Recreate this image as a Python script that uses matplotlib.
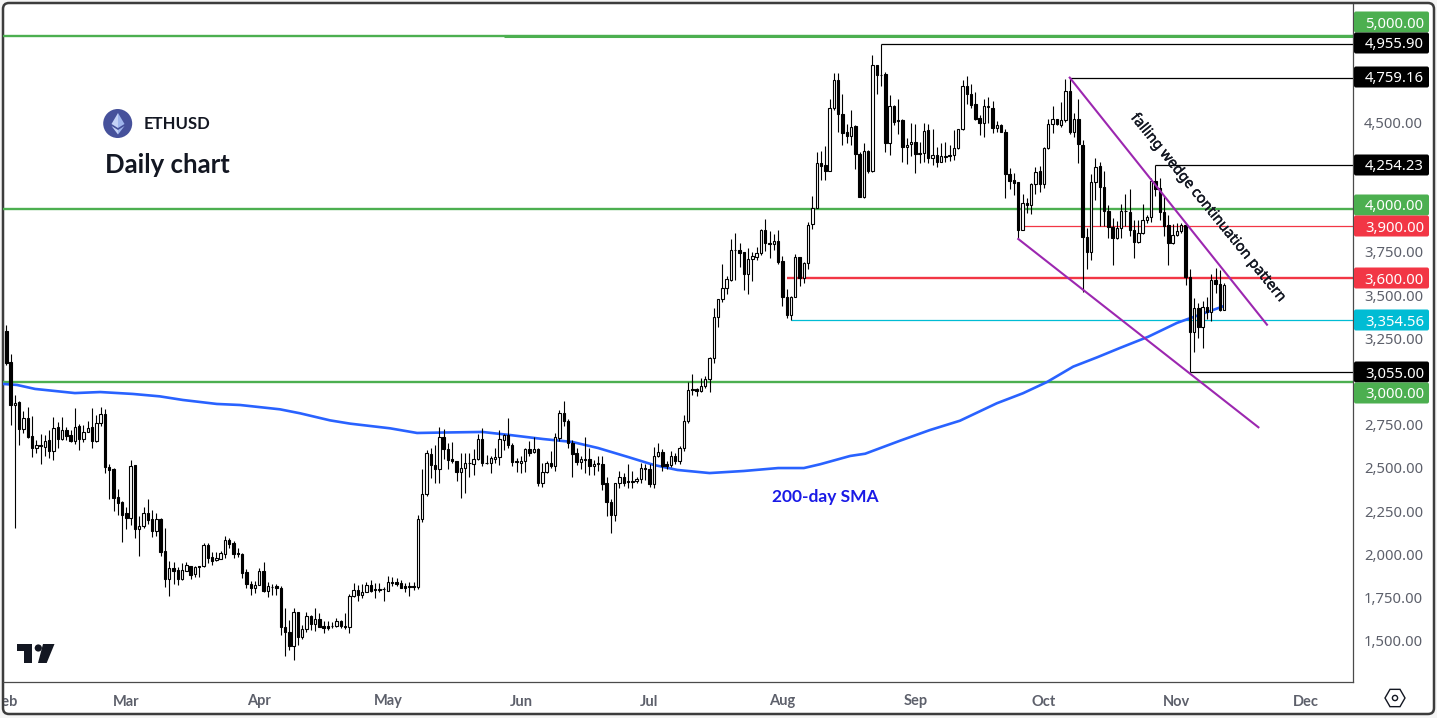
import matplotlib
matplotlib.use("Agg")
import matplotlib.pyplot as plt
import matplotlib.patheffects as pe
from matplotlib.patches import Circle, FancyBboxPatch, Polygon, RegularPolygon
from matplotlib.transforms import Bbox

plt.rcParams['font.family'] = ['Noto Sans', 'DejaVu Sans']

# daily ETHUSD candles, first one is 1 Feb
opens = [
    3294, 3113, 2863, 2879, 2725, 2786, 2682, 2615, 2630, 2621,
    2659, 2598, 2734, 2665, 2721, 2688, 2654, 2740, 2667, 2707,
    2734, 2654, 2759, 2813, 2507, 2492, 2329, 2300, 2236, 2211,
    2515, 2144, 2165, 2236, 2204, 2136, 2204, 2019, 1859, 1919,
    1909, 1859, 1905, 1934, 1884, 1931, 1931, 2054, 1984, 1965,
    1975, 2004, 2081, 2063, 2005, 1999, 1896, 1829, 1802, 1821,
    1902, 1790, 1813, 1817, 1804, 1579, 1552, 1467, 1665, 1521,
    1567, 1642, 1594, 1627, 1584, 1584, 1584, 1583, 1613, 1584,
    1577, 1756, 1792, 1767, 1784, 1821, 1800, 1798, 1798, 1790,
    1840, 1838, 1832, 1817, 1817, 1817, 1809, 2204, 2348, 2583,
    2517, 2494, 2681, 2612, 2554, 2540, 2477, 2502, 2527, 2521,
    2550, 2669, 2531, 2527, 2550, 2565, 2662, 2688, 2635, 2538,
    2527, 2538, 2612, 2592, 2612, 2413, 2477, 2531, 2512, 2673,
    2819, 2771, 2646, 2585, 2535, 2548, 2550, 2512, 2523, 2525,
    2412, 2300, 2229, 2415, 2450, 2423, 2425, 2423, 2438, 2502,
    2492, 2406, 2567, 2594, 2521, 2517, 2571, 2540, 2617, 2771,
    2954, 2956, 2944, 2973, 3012, 3137, 3373, 3477, 3544, 3588,
    3762, 3762, 3748, 3623, 3708, 3723, 3742, 3877, 3800, 3794,
    3813, 3698, 3488, 3387, 3492, 3719, 3602, 3685, 3911, 4007,
    4263, 4253, 4220, 4586, 4747, 4551, 4442, 4422, 4478, 4315,
    4070, 4334, 4219, 4830, 4776, 4778, 4378, 4597, 4511, 4513,
    4359, 4372, 4388, 4315, 4324, 4455, 4295, 4309, 4272, 4301,
    4309, 4309, 4349, 4459, 4713, 4667, 4605, 4524, 4497, 4590,
    4586, 4469, 4482, 4447, 4199, 4165, 4153, 3878, 4032, 4021,
    4142, 4219, 4145, 4349, 4488, 4517, 4484, 4511, 4684, 4445,
    4522, 4367, 3837, 3750, 4154, 4246, 4125, 3987, 3894, 3829,
    3889, 3985, 3981, 3879, 3806, 3858, 3935, 3952, 4162, 4119,
    3981, 3908, 3800, 3846, 3869, 3908, 3606, 3287, 3427, 3317,
    3433, 3402, 3585, 3565, 3414,
]
closes = [
    3109, 2863, 2877, 2725, 2786, 2679, 2613, 2630, 2627, 2657,
    2598, 2732, 2667, 2721, 2682, 2654, 2738, 2667, 2709, 2732,
    2655, 2761, 2813, 2505, 2486, 2327, 2298, 2229, 2211, 2513,
    2144, 2165, 2236, 2200, 2136, 2204, 2015, 1859, 1919, 1905,
    1859, 1909, 1938, 1882, 1927, 1929, 2052, 1981, 1961, 1979,
    2005, 2081, 2059, 2004, 1999, 1894, 1825, 1802, 1821, 1902,
    1790, 1815, 1811, 1802, 1577, 1548, 1467, 1665, 1521, 1567,
    1642, 1594, 1627, 1581, 1571, 1573, 1583, 1613, 1583, 1577,
    1757, 1792, 1767, 1784, 1823, 1788, 1792, 1794, 1796, 1838,
    1836, 1829, 1807, 1806, 1813, 1813, 2202, 2348, 2588, 2517,
    2494, 2681, 2608, 2546, 2538, 2477, 2502, 2531, 2531, 2554,
    2669, 2531, 2527, 2556, 2565, 2665, 2688, 2631, 2535, 2533,
    2542, 2612, 2588, 2612, 2413, 2479, 2531, 2512, 2681, 2819,
    2771, 2646, 2581, 2535, 2550, 2550, 2512, 2525, 2527, 2406,
    2300, 2229, 2415, 2450, 2415, 2421, 2419, 2438, 2502, 2492,
    2406, 2571, 2594, 2508, 2512, 2571, 2537, 2617, 2771, 2950,
    2952, 2944, 2973, 3015, 3138, 3373, 3477, 3544, 3592, 3762,
    3760, 3746, 3623, 3708, 3727, 3742, 3877, 3800, 3794, 3812,
    3690, 3487, 3387, 3492, 3719, 3602, 3685, 3908, 4007, 4263,
    4249, 4220, 4586, 4747, 4551, 4440, 4422, 4474, 4315, 4070,
    4334, 4219, 4830, 4776, 4774, 4378, 4597, 4503, 4509, 4359,
    4371, 4388, 4315, 4324, 4451, 4295, 4309, 4272, 4305, 4305,
    4307, 4349, 4459, 4713, 4667, 4599, 4520, 4497, 4592, 4592,
    4469, 4482, 4447, 4199, 4163, 4151, 3878, 4032, 4019, 4144,
    4215, 4145, 4351, 4488, 4517, 4488, 4511, 4684, 4445, 4522,
    4374, 3835, 3750, 4154, 4244, 4125, 3987, 3892, 3829, 3889,
    3987, 3987, 3875, 3806, 3860, 3935, 3952, 4162, 4117, 3981,
    3898, 3800, 3848, 3873, 3908, 3604, 3287, 3427, 3315, 3433,
    3402, 3585, 3565, 3412, 3556,
]
highs = [
    3329, 3159, 2919, 2890, 2827, 2855, 2798, 2659, 2694, 2692,
    2721, 2792, 2765, 2792, 2734, 2721, 2844, 2752, 2748, 2769,
    2846, 2804, 2850, 2838, 2525, 2500, 2379, 2311, 2271, 2548,
    2519, 2221, 2271, 2317, 2254, 2236, 2207, 2150, 1959, 1954,
    1929, 1948, 1955, 1934, 1934, 1932, 2067, 2063, 2015, 2011,
    2017, 2105, 2096, 2077, 2034, 2005, 1913, 1846, 1846, 1923,
    1955, 1842, 1829, 1827, 1817, 1688, 1621, 1688, 1665, 1592,
    1663, 1650, 1688, 1659, 1611, 1611, 1607, 1631, 1621, 1659,
    1771, 1832, 1823, 1827, 1842, 1852, 1832, 1836, 1813, 1875,
    1871, 1865, 1852, 1832, 1842, 1842, 2227, 2492, 2604, 2617,
    2631, 2738, 2727, 2646, 2652, 2540, 2588, 2588, 2588, 2608,
    2694, 2733, 2575, 2569, 2617, 2719, 2698, 2790, 2646, 2560,
    2569, 2617, 2656, 2681, 2617, 2531, 2540, 2598, 2704, 2833,
    2885, 2785, 2662, 2617, 2569, 2681, 2617, 2546, 2569, 2569,
    2448, 2319, 2415, 2483, 2473, 2525, 2483, 2450, 2531, 2521,
    2521, 2623, 2646, 2608, 2540, 2598, 2588, 2627, 2804, 3000,
    3046, 2963, 3021, 3031, 3142, 3425, 3479, 3681, 3612, 3823,
    3862, 3800, 3752, 3771, 3752, 3781, 3881, 3940, 3873, 3852,
    3877, 3727, 3535, 3496, 3737, 3719, 3694, 3925, 4074, 4330,
    4336, 4363, 4638, 4786, 4788, 4667, 4490, 4574, 4482, 4330,
    4378, 4340, 4888, 4830, 4955, 4792, 4661, 4599, 4634, 4517,
    4407, 4499, 4490, 4388, 4494, 4488, 4459, 4355, 4378, 4384,
    4369, 4455, 4463, 4743, 4767, 4720, 4676, 4545, 4638, 4647,
    4624, 4509, 4488, 4459, 4234, 4205, 4157, 4086, 4065, 4147,
    4244, 4247, 4355, 4519, 4594, 4522, 4619, 4753, 4759, 4555,
    4634, 4398, 3889, 4202, 4292, 4273, 4219, 4023, 3946, 3927,
    4029, 4087, 4114, 3937, 3937, 4027, 3965, 4177, 4254, 4177,
    4075, 3962, 3912, 3917, 3917, 3912, 3652, 3485, 3456, 3465,
    3490, 3625, 3658, 3648, 3571,
]
lows = [
    3098, 2746, 2154, 2630, 2702, 2675, 2563, 2586, 2523, 2567,
    2559, 2544, 2613, 2659, 2659, 2648, 2640, 2602, 2648, 2707,
    2613, 2648, 2740, 2471, 2321, 2250, 2229, 2073, 2144, 2169,
    2096, 1992, 2154, 2173, 2102, 2107, 1992, 1813, 1756, 1830,
    1823, 1852, 1904, 1859, 1871, 1871, 1929, 1948, 1938, 1961,
    1975, 1981, 2034, 1981, 1982, 1865, 1802, 1767, 1775, 1821,
    1784, 1750, 1763, 1763, 1534, 1413, 1448, 1386, 1473, 1509,
    1548, 1563, 1554, 1581, 1542, 1563, 1573, 1579, 1573, 1569,
    1542, 1750, 1727, 1746, 1784, 1781, 1744, 1784, 1730, 1790,
    1817, 1817, 1804, 1783, 1756, 1794, 1798, 2188, 2339, 2440,
    2412, 2415, 2550, 2492, 2531, 2425, 2325, 2354, 2448, 2458,
    2546, 2512, 2521, 2469, 2531, 2517, 2604, 2617, 2512, 2477,
    2469, 2477, 2569, 2588, 2396, 2390, 2473, 2502, 2483, 2656,
    2742, 2617, 2448, 2515, 2492, 2469, 2460, 2458, 2483, 2373,
    2223, 2121, 2194, 2381, 2396, 2381, 2385, 2412, 2415, 2431,
    2392, 2381, 2565, 2483, 2496, 2506, 2521, 2521, 2598, 2762,
    2921, 2915, 2938, 2963, 2938, 3108, 3313, 3463, 3508, 3583,
    3588, 3665, 3531, 3508, 3579, 3704, 3733, 3756, 3717, 3762,
    3681, 3435, 3367, 3358, 3492, 3550, 3569, 3650, 3884, 4005,
    4167, 4167, 4219, 4570, 4445, 4369, 4378, 4369, 4230, 4070,
    4065, 4209, 4211, 4663, 4709, 4330, 4311, 4484, 4432, 4272,
    4259, 4305, 4209, 4263, 4272, 4267, 4253, 4240, 4272, 4272,
    4278, 4282, 4344, 4455, 4605, 4584, 4513, 4426, 4417, 4499,
    4436, 4445, 4445, 4065, 4115, 4080, 3826, 3878, 3974, 3970,
    4086, 4095, 4122, 4344, 4436, 4484, 4474, 4503, 4432, 4413,
    4267, 3519, 3654, 3702, 4048, 3898, 3898, 3831, 3677, 3825,
    3831, 3898, 3840, 3714, 3802, 3854, 3917, 3923, 4075, 3937,
    3840, 3677, 3798, 3840, 3860, 3558, 3055, 3171, 3252, 3196,
    3360, 3350, 3510, 3408, 3414,
]

# 200-day SMA, day number and price
sma_days = [-0.8, 2.5, 6.7, 16, 21.9, 29.5, 35.8, 41.2, 49.1, 54.5, 63.8, 68.5, 75.5, 80.2, 89.5, 95.8, 100.4,
            111, 117.5, 125.2, 132, 138, 145, 151, 156.5, 164, 172, 180, 186, 189.8, 196.8, 200.3, 208.4, 215.4,
            222.4, 231, 237.1, 242.7, 248.8, 254.4, 259.7, 266.3, 273, 284]
sma_values = [2986, 2980, 2957, 2933, 2939, 2928, 2914, 2893, 2870, 2864, 2839, 2816, 2775, 2756, 2729, 2702, 2704,
              2708, 2690, 2667, 2650, 2615, 2563, 2517, 2488, 2470, 2482, 2499, 2499, 2521, 2569, 2582, 2657, 2719,
              2773, 2874, 2932, 2997, 3086, 3140, 3194, 3259, 3339, 3437]

# full width support / resistance levels
green_levels = [5000, 4000, 3000]
# (price, first day) of the lines that start at a candle
black_rays = [(4955.90, 204), (4759.16, 248), (4254.23, 268), (3055.00, 276)]
red_rays = [(3900, 237), (3600, 182)]
cyan_ray = (3354.56, 183)

wedge_upper_days = [248, 294]
wedge_upper_prices = [4759, 3329]
wedge_lower_days = [236, 292]
wedge_lower_prices = [3825, 2735]

month_names = ['Feb', 'Mar', 'Apr', 'May', 'Jun', 'Jul', 'Aug', 'Sep', 'Oct', 'Nov', 'Dec']
month_days = [0, 28, 59, 89, 120, 150, 181, 212, 242, 273, 303]
price_ticks = [4500, 3750, 3500, 3250, 2750, 2500, 2250, 2000, 1750, 1500]

# price tags on the right: text, y pixel, colour
tag_texts = ['5,000.00', '4,955.90', '4,759.16', '4,254.23', '4,000.00', '3,900.00', '3,600.00', '3,354.56', '3,055.00', '3,000.00']
tag_rows = [22, 43, 77, 165, 205, 226, 278, 320, 372, 393]
tag_colors = ['#4caf50', '#000000', '#000000', '#000000', '#4caf50', '#f23645', '#f23645', '#00bcd4', '#000000', '#4caf50']

GREEN = '#4caf50'
RED = '#f23645'
CYAN = '#00bcd4'
BLUE = '#2962ff'
PURPLE = '#9c27b0'
GREY = '#5d606b'

W, H = 1437, 718
fig = plt.figure(figsize=(W / 100, H / 100), dpi=100, facecolor='#f5f5f5')

# background layer for the rounded frame, same pixel coordinates as the picture
bg = fig.add_axes([0, 0, 1, 1], zorder=0)
bg.set_xlim(0, W)
bg.set_ylim(H, 0)
bg.axis('off')
bg.add_patch(FancyBboxPatch((3, 3), 1431, 711, boxstyle='round,pad=0,rounding_size=6',
                            fc='white', ec='#3c3c3c', lw=1.8))

# the chart itself, x = day number, y = price
left, right, top, bottom = 3, 1353, 4, 682
ax = fig.add_axes([left / W, 1 - bottom / H, (right - left) / W, (bottom - top) / H], zorder=1)
ax.patch.set_alpha(0)
x0 = 6.3
day_px = 4.288
price_px = 0.17275
ax.set_xlim((left - x0) / day_px, (right - x0) / day_px)
ax.set_ylim(3000 + (381.5 - bottom) / price_px, 3000 + (381.5 - top) / price_px)
for side in ['top', 'left']:
    ax.spines[side].set_visible(False)
ax.spines['right'].set_color('#4a4a4a')
ax.spines['bottom'].set_color('#4a4a4a')
ax.spines['right'].set_linewidth(0.9)
ax.spines['bottom'].set_linewidth(0.9)

# levels first, candles go on top
ax.hlines(green_levels, -1, 320, color=GREEN, lw=1.7, zorder=2)
ax.hlines(5000, 116, 320, color=GREEN, lw=2.2, zorder=2)
for price, start in black_rays:
    ax.hlines(price, start, 320, color='black', lw=0.9, zorder=2)
ax.hlines(red_rays[0][0], red_rays[0][1], 320, color=RED, lw=0.9, zorder=2)
ax.hlines(red_rays[1][0], red_rays[1][1], 320, color=RED, lw=1.7, zorder=2)
ax.hlines(cyan_ray[0], cyan_ray[1], 320, color=CYAN, lw=0.9, zorder=2)
ax.plot(sma_days, sma_values, color=BLUE, lw=1.9, zorder=3, solid_capstyle='round')

for day in range(len(opens)):
    ax.vlines(day, lows[day], highs[day], color='black', lw=0.8, zorder=4)
    up = closes[day] >= opens[day]
    bot = min(opens[day], closes[day])
    ax.bar(day, abs(closes[day] - opens[day]), 0.56, bot, color='white' if up else 'black',
           edgecolor='black', linewidth=0.8, zorder=5)

ax.plot(wedge_upper_days, wedge_upper_prices, color=PURPLE, lw=1.5, zorder=6)
ax.plot(wedge_lower_days, wedge_lower_prices, color=PURPLE, lw=1.5, zorder=6)

ax.yaxis.tick_right()
ax.set_yticks(price_ticks)
ax.set_yticklabels([f'{p:,.2f}' for p in price_ticks], color=GREY, fontsize=10.7)
ax.set_xticks(month_days)
ax.set_xticklabels(month_names, color=GREY, fontsize=10.5, fontweight='bold', family='Lato')
ax.tick_params(axis='y', length=0, pad=8)
ax.tick_params(axis='x', length=0, pad=9)
# Feb is cut by the frame on the reference
for label in ax.get_xticklabels():
    label.set_clip_on(True)
    label.set_clip_box(Bbox([[left + 1, 0], [W, H]]))

# overlay with tags, titles, logos
ov = fig.add_axes([0, 0, 1, 1], zorder=3)
ov.set_xlim(0, W)
ov.set_ylim(H, 0)
ov.axis('off')
ov.patch.set_alpha(0)

for text, row, color in zip(tag_texts, tag_rows, tag_colors):
    ov.add_patch(FancyBboxPatch((1354, row - 10.5), 75, 21, boxstyle='round,pad=0,rounding_size=2',
                                fc=color, ec='none'))
    ov.text(1424, row, text, color='white', fontsize=10.7, ha='right', va='center_baseline')

ov.add_patch(Circle((117.7, 123.5), 14.5, fc='#46519b', ec='none'))
ov.add_patch(Polygon([(118, 113), (111.5, 124), (118, 128)], fc='#c4d2f6', ec='none'))
ov.add_patch(Polygon([(118, 113), (124.5, 124), (118, 128)], fc='#9fb5ec', ec='none'))
ov.add_patch(Polygon([(111.5, 126), (118, 134.5), (118, 130)], fc='#c4d2f6', ec='none'))
ov.add_patch(Polygon([(124.5, 126), (118, 134.5), (118, 130)], fc='#9fb5ec', ec='none'))

ov.text(144, 124, 'ETHUSD', fontsize=12, color='#131722', va='center', fontweight='bold', family='Lato')
ov.text(105, 165, 'Daily chart', fontsize=18.5, color='#131722', va='center', fontweight='bold', family='Lato')
ov.text(825, 497, '200-day SMA', fontsize=12.5, color='#1a1ae6', va='center', ha='center', fontweight='bold', family='Lato')
wedge_label = ov.text(1208, 208, 'falling wedge continuation pattern', fontsize=10.5, color='#131722',
                      rotation=-51, ha='center', va='center', rotation_mode='anchor')
wedge_label.set_path_effects([pe.withStroke(linewidth=0.3, foreground='#131722')])

# TradingView mark
logo = '#131722'
ov.add_patch(Polygon([(17, 644), (32.3, 644), (32.3, 663), (24.3, 663), (24.3, 651), (17, 651)], fc=logo, ec='none'))
ov.add_patch(Circle((38.3, 648), 3.6, fc=logo, ec='none'))
ov.add_patch(Polygon([(43, 644), (54.5, 644), (46.7, 663), (38, 663)], fc=logo, ec='none'))

# settings hexagon bottom right
ov.add_patch(RegularPolygon((1395, 698), 6, radius=10, orientation=0.5236, fc='none', ec='#131722', lw=1))
ov.add_patch(Circle((1395, 698), 2.6, fc='none', ec='#131722', lw=1))

fig.savefig('out.png', dpi=100, facecolor=fig.get_facecolor())
